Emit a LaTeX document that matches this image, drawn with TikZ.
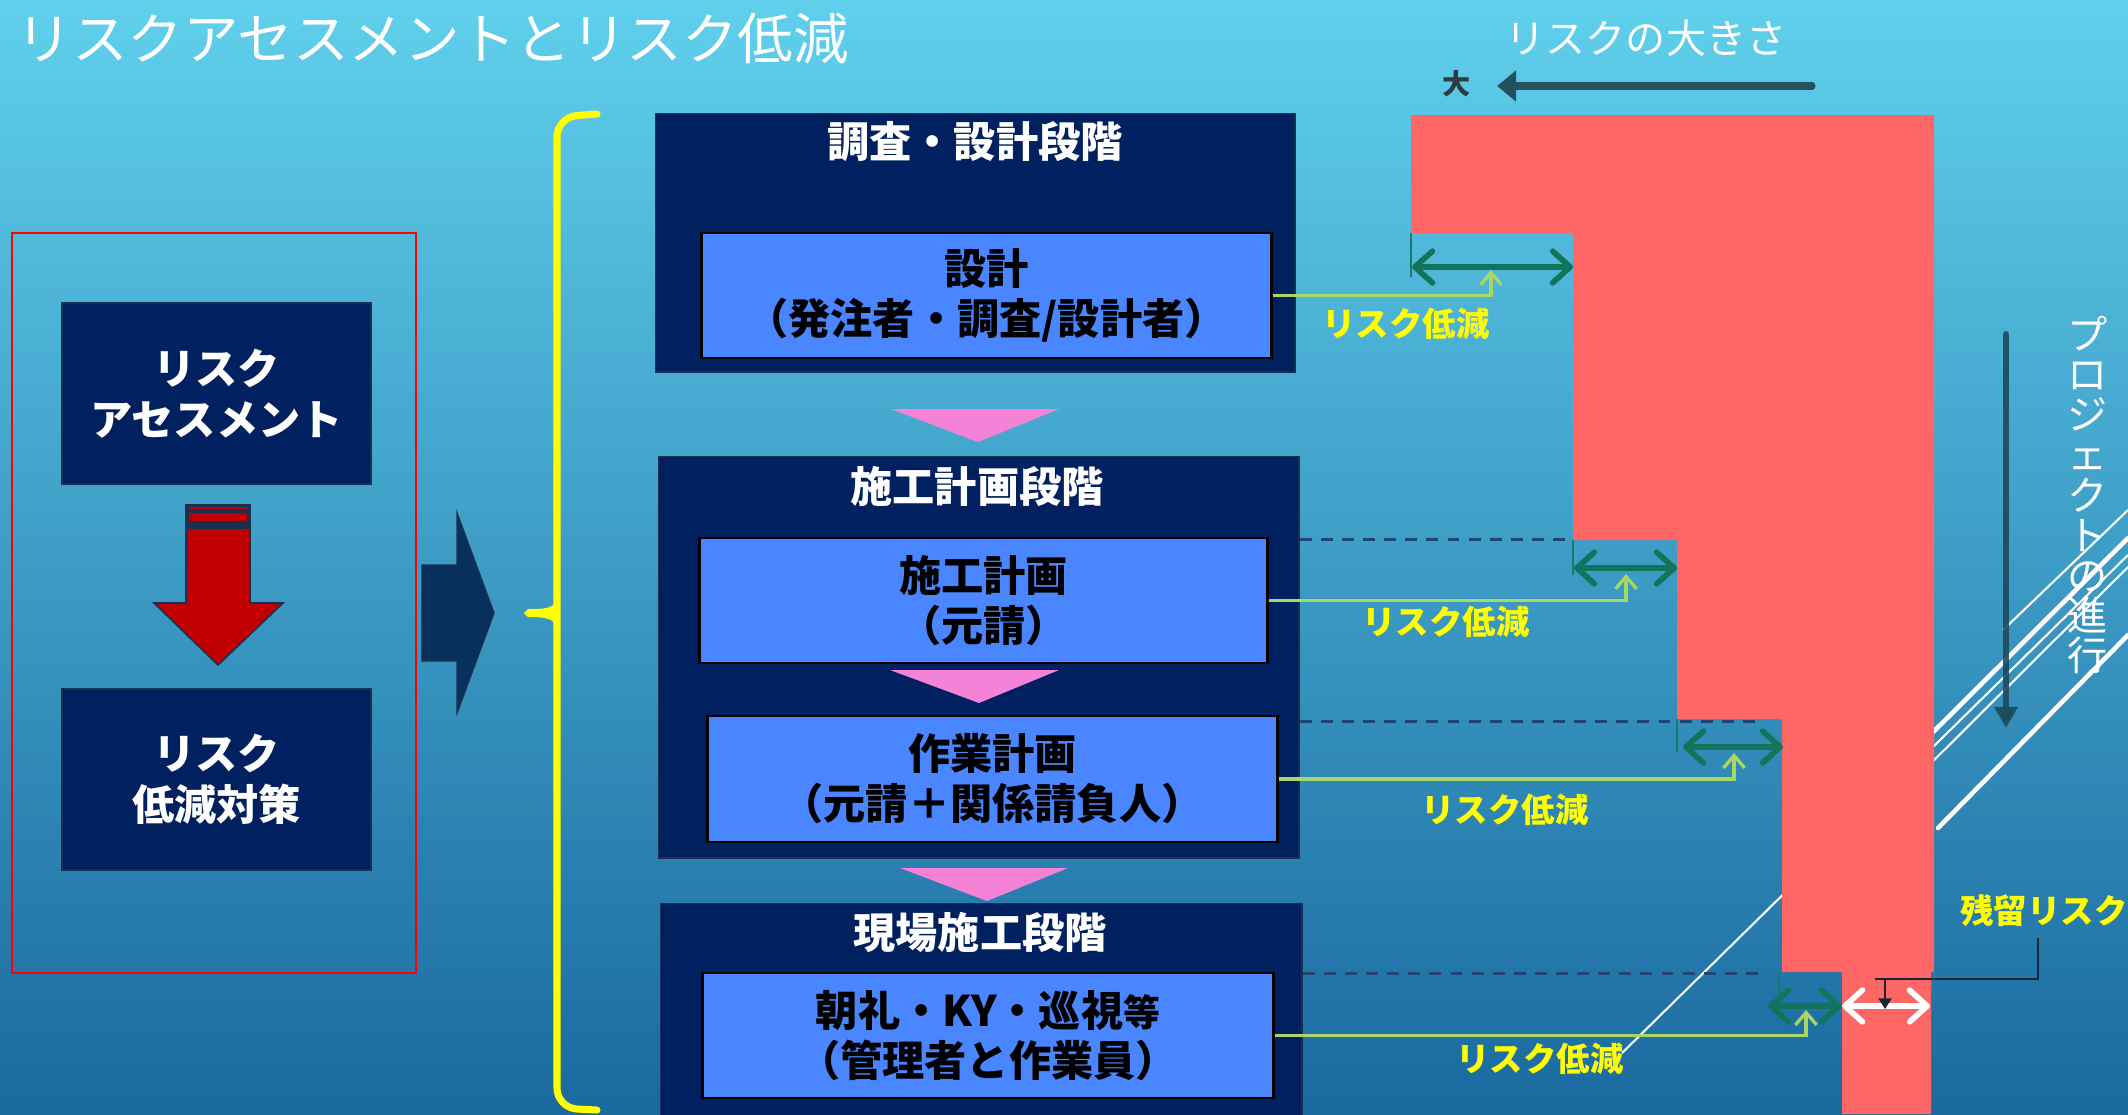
\documentclass[tikz,border=0pt]{standalone}
\usepackage{fontspec}
\setmainfont{Noto Sans CJK JP}
\usetikzlibrary{arrows.meta}
\definecolor{bgtop}{HTML}{60D0EC}
\definecolor{bgmid}{HTML}{3A9ECB}
\definecolor{bgbot}{HTML}{1A699F}
\definecolor{navyfill}{HTML}{002060}
\definecolor{navyedge}{HTML}{1B3050}
\definecolor{inblue}{HTML}{4A86FF}
\definecolor{pinktri}{HTML}{F483D8}
\definecolor{riskred}{HTML}{FF6666}
\definecolor{dgreen}{HTML}{12745A}
\definecolor{lgreen}{HTML}{A9D766}
\definecolor{dashblue}{HTML}{1D4670}
\definecolor{sizearrow}{HTML}{24505F}
\definecolor{procarrow}{HTML}{1D4A5C}
\definecolor{bigarrowc}{HTML}{08305C}
\definecolor{arrowred}{HTML}{C00000}
\definecolor{labelyellow}{HTML}{FFFF00}
\definecolor{leaderc}{HTML}{1A2530}
\definecolor{tealline}{HTML}{1A7A6A}
\definecolor{daicol}{HTML}{2E3B40}
\newcommand{\vertfont}{\fontsize{11.4}{11.4}\selectfont\lineskiplimit=-20pt\relax}
\begin{document}
\begin{tikzpicture}[x=0.01cm,y=-0.01cm,
  stagebox/.style={fill=navyfill, draw=navyedge, line width=0.4pt, anchor=north west, inner sep=0pt},
  innerbox/.style={fill=inblue, draw=black, line width=0.8pt, align=center, text=black,
    font=\bfseries\fontsize{12}{14.2}\selectfont, inner sep=0pt},
  stagetitle/.style={text=white, font=\bfseries\fontsize{12}{14}\selectfont},
  leftbox/.style={fill=navyfill, draw=navyedge, line width=0.4pt, text=white, align=center,
    font=\bfseries\fontsize{12}{14.5}\selectfont, minimum width=3.09cm, minimum height=1.81cm, inner sep=0pt},
  redlabel/.style={text=labelyellow, font=\bfseries\fontsize{9.5}{11}\selectfont, inner sep=0pt},
  dga/.style={draw=dgreen, line width=1.6pt,
    {Straight Barb[round,length=5pt,width=9pt]}-{Straight Barb[round,length=5pt,width=9pt]}},
  wda/.style={draw=white, line width=1.6pt,
    {Straight Barb[round,length=5pt,width=9pt]}-{Straight Barb[round,length=5pt,width=9pt]}},
  conn/.style={draw=lgreen, line width=0.95pt, -{Straight Barb[length=3.5pt,width=6pt]}},
  dashline/.style={draw=dashblue, line width=0.85pt, dash pattern=on 3.4pt off 2.6pt},
  thinedge/.style={draw=tealline, line width=0.35pt},
  decothin/.style={draw=white, line width=0.6pt},
  decothick/.style={draw=white, line width=1.3pt, line cap=round}
]
\useasboundingbox (0,0) rectangle (2128,1114);
\clip (0,0) rectangle (2128,1114);
% background
\shade[top color=bgtop, middle color=bgmid, bottom color=bgbot] (0,0) rectangle (2128,1114);

% title
\node[anchor=west, inner sep=0pt, text=white, font=\fontsize{15.8}{18}\selectfont] (title) at (16,39) {リスクアセスメントとリスク低減};

% ---------- left part ----------
\draw[draw=red, line width=0.7pt] (12,233) rectangle (416,973);
\node[leftbox] (la) at (216.5,393.5) {リスク\\アセスメント};
\node[leftbox] (lb) at (216.5,779.5) {リスク\\低減対策};
% striped red arrow
\filldraw[fill=navyedge, draw=navyedge, line width=0.3pt] (186,505) rectangle (250,526);
\fill[arrowred] (189,507) rectangle (247,509);
\fill[arrowred] (189,513) rectangle (247,521);
\filldraw[fill=arrowred, draw=navyedge, line width=0.45pt]
  (186,528) -- (250,528) -- (250,603) -- (283,603) -- (218,665) -- (154,603) -- (186,603) -- cycle;
% big navy block arrow
\filldraw[fill=bigarrowc, draw=navyedge, line width=0.4pt]
  (422,565) -- (457,565) -- (457,513) -- (494,613) -- (457,713) -- (457,661) -- (422,661) -- cycle;
% yellow brace
\draw[labelyellow, line width=2pt, line cap=round, rounded corners=0.2cm]
  (597,114) -- (557,117) -- (557,1108) -- (597,1110);
\fill[labelyellow] (557,596) .. controls (556,609) and (545,609) .. (528,609)
  -- (524,613) -- (528,617) .. controls (545,617) and (556,618) .. (557,630) -- cycle;

% ---------- middle part ----------
\node[stagebox, minimum width=6.39cm, minimum height=2.58cm] (s1) at (655,113) {};
\node[stagebox, minimum width=6.40cm, minimum height=4.01cm] (s2) at (658,456) {};
\node[stagebox, minimum width=6.41cm, minimum height=2.40cm] (s3) at (660,903) {};
\node[stagetitle] (t1) at (975,142) {調査・設計段階};
\node[stagetitle] (t2) at (977,486) {施工計画段階};
\node[stagetitle] (t3) at (980,933) {現場施工段階};
\node[innerbox, minimum width=5.69cm, minimum height=1.25cm] (b1) at (986.5,295.5) {設計\\（発注者・調査/設計者）};
\node[innerbox, minimum width=5.67cm, minimum height=1.25cm] (b2) at (983.5,600.5) {施工計画\\（元請）};
\node[innerbox, minimum width=5.69cm, minimum height=1.26cm] (b3) at (992.5,779) {作業計画\\（元請＋関係請負人）};
\node[innerbox, minimum width=5.70cm, minimum height=1.25cm] (b4) at (988,1035.5) {朝礼・KY・巡視{\fontsize{10.5}{14}\selectfont 等}\\（管理者と作業員）};
\fill[pinktri] (891,409) -- (1059,409) -- (978,442) -- cycle;
\fill[pinktri] (890,670) -- (1059,670) -- (979,703) -- cycle;
\fill[pinktri] (900,868) -- (1068,868) -- (987,901) -- cycle;

% ---------- right part ----------
% decorative white lines (behind the risk bar)
\draw[decothin] (1622,1053) -- (2128,555);
\draw[decothick] (1900,765) -- (2128,538);
\draw[decothin] (1900,794) -- (2128,567);
\draw[decothin] (2003,630) -- (2128,510);
\draw[decothick] (1938,828) -- (2128,635);

% risk bar
\fill[riskred] (1411,115) -- (1934,115) -- (1934,972) -- (1931,972) -- (1931,1114) -- (1842,1114)
  -- (1842,972) -- (1782,972) -- (1782,719) -- (1677,719) -- (1677,540) -- (1573,540)
  -- (1573,233) -- (1411,233) -- cycle;
\draw[thinedge] (1411,233) -- (1411,277);
\draw[thinedge] (1573,540) -- (1573,575);
\draw[thinedge] (1677,719) -- (1677,752);
\draw[thinedge] (1779,972) -- (1779,1002);

% dashed guides
\coordinate (g1) at (1572,539);
\coordinate (g2) at (1761,721);
\coordinate (g3) at (1761,973);
\draw[dashline] (s2.east |- g1) -- (g1);
\draw[dashline] (s2.east |- g2) -- (g2);
\draw[dashline] (s3.east |- g3) -- (g3);

% reduction double arrows
\coordinate (d1l) at (1412,267); \coordinate (d1r) at (1573,267);
\coordinate (d2l) at (1574,568); \coordinate (d2r) at (1677,568);
\coordinate (d3l) at (1683,747); \coordinate (d3r) at (1783,747);
\coordinate (d4l) at (1768,1006); \coordinate (d4r) at (1842,1006);
\coordinate (d5r) at (1930,1006);
\draw[dga] (d1l) -- (d1r);
\draw[dga] (d2l) -- (d2r);
\draw[dga] (d3l) -- (d3r);
\draw[dga] (d4l) -- (d4r);
\draw[wda] (d4r) -- (d5r);

% connectors from the boxes
\coordinate (u1) at (1491,270);
\coordinate (u2) at (1626,574);
\coordinate (u3) at (1734,753);
\coordinate (u4) at (1806,1010);
\draw[conn] (b1.east) -| (u1);
\draw[conn] (b2.east) -| (u2);
\draw[conn] (b3.east) -| (u3);
\draw[conn] (b4.east) -| (u4);

\node[redlabel] (r1) at (1406,324) {リスク低減};
\node[redlabel] (r2) at (1446,622) {リスク低減};
\node[redlabel] (r3) at (1505,810) {リスク低減};
\node[redlabel] (r4) at (1540,1059) {リスク低減};

% residual risk
\node[redlabel] (res) at (2044,911) {残留リスク};
\coordinate (ra) at (2038,938);
\coordinate (rb) at (1875,979);
\coordinate (rc) at (1885,979);
\coordinate (rd) at (1885,1009);
\draw[leaderc, line width=0.7pt] (ra) |- (rb);
\draw[leaderc, line width=0.8pt, -{Triangle[length=3pt,width=3.6pt]}] (rc) -- (rd);

% risk size label and arrow
\node[text=white, font=\fontsize{11.4}{13}\selectfont, inner sep=0pt] (size) at (1646,38) {リスクの大きさ};
\node[text=daicol, font=\bfseries\fontsize{8}{9}\selectfont, inner sep=0pt] (dai) at (1457,84) {大};
\coordinate (sa) at (1812,86);
\coordinate (sb) at (1497,86);
\draw[sizearrow, line width=2pt, line cap=round, -{Triangle[length=5.4pt,width=8.5pt]}] (sa) -- (sb);

% project progress
\coordinate (pa) at (2006,334);
\coordinate (pb) at (2006,728);
\draw[procarrow, opacity=0.9, line width=1.7pt, line cap=round, -{Triangle[length=6pt,width=6.4pt]}] (pa) -- (pb);
\node[text=white, align=center, inner sep=0pt, font=\vertfont] (prog) at (2088,495)
  {プ\\ロ\\ジ\\ェ\\ク\\ト\\の\\進\\行};
\end{tikzpicture}
\end{document}
